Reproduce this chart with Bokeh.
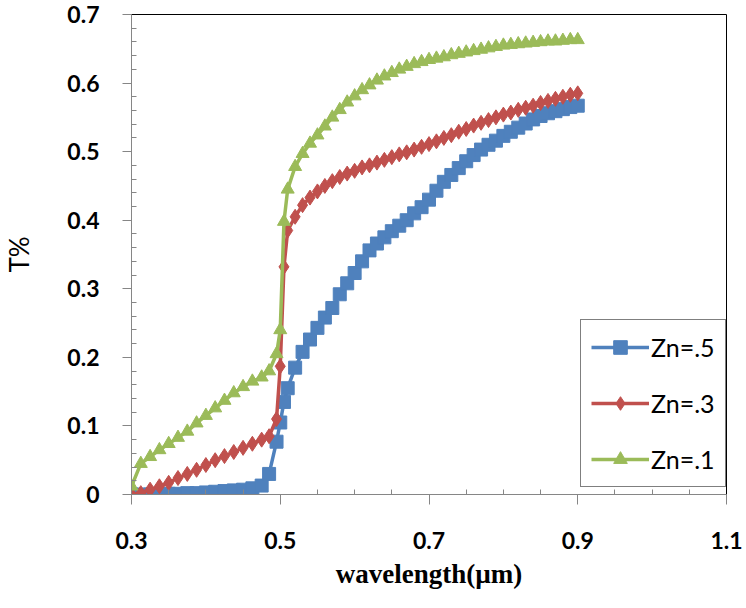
import numpy as np
from bokeh.plotting import figure
from bokeh.models import Range1d, FixedTicker, Legend, LegendItem
from bokeh.embed import file_html
from bokeh.resources import INLINE

# ---------------- data ----------------
wavelength = [0.300, 0.3125, 0.325, 0.3375, 0.350, 0.3625, 0.375, 0.3875, 0.400, 0.4125,
              0.425, 0.4375, 0.450, 0.4625, 0.475, 0.485, 0.495, 0.500, 0.505, 0.510,
              0.52, 0.53, 0.54, 0.55, 0.56, 0.57, 0.58, 0.59, 0.60, 0.61,
              0.62, 0.63, 0.64, 0.65, 0.66, 0.67, 0.68, 0.69, 0.70, 0.71,
              0.72, 0.73, 0.74, 0.75, 0.76, 0.77, 0.78, 0.79, 0.80, 0.81,
              0.82, 0.83, 0.84, 0.85, 0.86, 0.87, 0.88, 0.89, 0.90]

zn05 = [0.000, 0.000, 0.000, 0.000, 0.001, 0.001, 0.002, 0.002, 0.003, 0.004,
        0.005, 0.006, 0.007, 0.009, 0.013, 0.030, 0.077, 0.105, 0.135, 0.155,
        0.185, 0.208, 0.226, 0.243, 0.258, 0.272, 0.292, 0.308, 0.323, 0.340,
        0.356, 0.366, 0.375, 0.384, 0.392, 0.400, 0.410, 0.419, 0.430, 0.443,
        0.456, 0.466, 0.476, 0.486, 0.495, 0.503, 0.510, 0.516, 0.523, 0.529,
        0.535, 0.541, 0.547, 0.552, 0.556, 0.559, 0.562, 0.565, 0.567]

zn03 = [0.000, 0.002, 0.007, 0.012, 0.017, 0.024, 0.030, 0.036, 0.043, 0.050,
        0.056, 0.062, 0.068, 0.074, 0.080, 0.085, 0.110, 0.187, 0.332, 0.385,
        0.405, 0.422, 0.433, 0.442, 0.450, 0.457, 0.463, 0.468, 0.472, 0.477,
        0.480, 0.484, 0.488, 0.492, 0.496, 0.499, 0.503, 0.507, 0.511, 0.515,
        0.520, 0.524, 0.529, 0.533, 0.538, 0.542, 0.546, 0.550, 0.554, 0.557,
        0.561, 0.564, 0.567, 0.571, 0.574, 0.577, 0.580, 0.583, 0.585]

zn01 = [0.012, 0.045, 0.055, 0.065, 0.074, 0.083, 0.092, 0.104, 0.115, 0.126,
        0.137, 0.148, 0.157, 0.165, 0.171, 0.180, 0.205, 0.240, 0.398, 0.445,
        0.478, 0.497, 0.512, 0.524, 0.537, 0.550, 0.561, 0.572, 0.581, 0.590,
        0.597, 0.604, 0.610, 0.615, 0.620, 0.624, 0.628, 0.631, 0.634, 0.636,
        0.638, 0.641, 0.643, 0.645, 0.647, 0.649, 0.651, 0.653, 0.655, 0.656,
        0.657, 0.658, 0.659, 0.660, 0.661, 0.661, 0.662, 0.663, 0.663]

series_names = ["Zn=.5", "Zn=.3", "Zn=.1"]

x_ticks = [0.3, 0.5, 0.7, 0.9, 1.1]
x_tick_labels = ["0.3", "0.5", "0.7", "0.9", "1.1"]
x_minor = [0.35, 0.4, 0.45, 0.55, 0.6, 0.65, 0.75, 0.8, 0.85, 0.95, 1.0, 1.05]
y_ticks = [0.0, 0.1, 0.2, 0.3, 0.4, 0.5, 0.6, 0.7]
y_tick_labels = ["0", "0.1", "0.2", "0.3", "0.4", "0.5", "0.6", "0.7"]
y_minor = [round(0.02 * i, 2) for i in range(36) if i % 5 != 0]

# ---------------- figure ----------------
p = figure(width=746, height=608, output_backend="svg", toolbar_location=None,
           x_range=Range1d(0.3, 1.1), y_range=Range1d(0, 0.7),
           min_border_left=128, min_border_right=20, min_border_top=14, min_border_bottom=114)
p.xgrid.visible = False
p.ygrid.visible = False
p.outline_line_color = "#000000"
p.outline_line_width = 1
p.background_fill_color = "white"
p.border_fill_color = "white"

BLUE = "#4F81BD"
RED = "#C0504D"
GREEN = "#9BBB59"

items = []
l1 = p.line(wavelength, zn05, line_color=BLUE, line_width=3.5)
s1 = p.scatter(wavelength, zn05, marker="square", size=13, fill_color=BLUE, line_color=BLUE)
items.append(LegendItem(label=series_names[0], renderers=[l1, s1]))
l2 = p.line(wavelength, zn03, line_color=RED, line_width=3.5)
s2 = p.scatter(wavelength, zn03, marker="diamond", size=15, fill_color=RED, line_color=RED)
items.append(LegendItem(label=series_names[1], renderers=[l2, s2]))
l3 = p.line(wavelength, zn01, line_color=GREEN, line_width=3.5)
s3 = p.scatter(wavelength, zn01, marker="triangle", size=13, fill_color=GREEN, line_color=GREEN)
items.append(LegendItem(label=series_names[2], renderers=[l3, s3]))

legend = Legend(items=items, location=(449, 7), margin=0, padding=10,
                spacing=22, glyph_width=58, glyph_height=34, label_height=34,
                label_standoff=2, border_line_color="black", border_line_width=1,
                label_text_font="Lato", label_text_font_size="25px",
                label_text_color="black", background_fill_alpha=1)
p.add_layout(legend)

AX = "#868686"
for ax in (p.xaxis[0], p.yaxis[0]):
    ax.axis_line_color = AX
    ax.major_tick_line_color = AX
    ax.minor_tick_line_color = AX
    ax.major_tick_in = 0
    ax.minor_tick_out = 0
    ax.minor_tick_in = 5
    ax.major_label_text_font = "Lato"
    ax.major_label_text_font_style = "bold"
    ax.major_label_text_font_size = "23px"
    ax.major_label_text_color = "black"

p.xaxis.ticker = FixedTicker(ticks=x_ticks, minor_ticks=x_minor)
p.yaxis.ticker = FixedTicker(ticks=y_ticks, minor_ticks=y_minor)
p.xaxis.major_label_overrides = dict(zip(x_ticks, x_tick_labels))
p.yaxis.major_label_overrides = dict(zip(y_ticks, y_tick_labels))
p.xaxis.major_tick_out = 10
p.yaxis.major_tick_out = 9
p.xaxis.major_label_standoff = 27
p.yaxis.major_label_standoff = 23

p.xaxis.axis_label = "wavelength(µm)"
p.xaxis.axis_label_text_font = "Liberation Serif"
p.xaxis.axis_label_text_font_style = "bold"
p.xaxis.axis_label_text_font_size = "27px"
p.xaxis.axis_label_standoff = 7
p.xaxis.axis_label_text_color = "black"

p.yaxis.axis_label = "T%"
p.yaxis.axis_label_text_font = "Lato"
p.yaxis.axis_label_text_font_style = "normal"
p.yaxis.axis_label_text_font_size = "26px"
p.yaxis.axis_label_standoff = 29
p.yaxis.axis_label_text_color = "black"

open("out.html", "w").write(file_html(p, INLINE))
